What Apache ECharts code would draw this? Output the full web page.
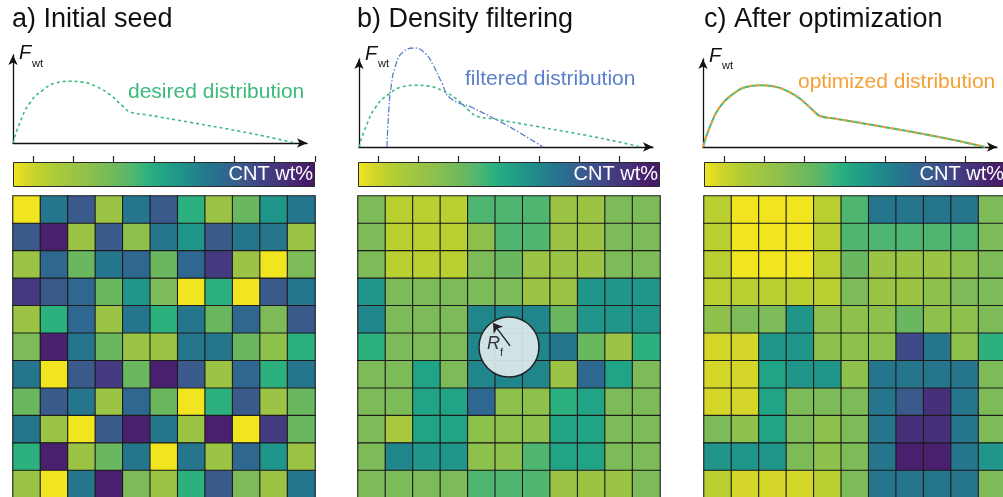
<!DOCTYPE html>
<html>
<head>
<meta charset="utf-8">
<script src="https://cdn.jsdelivr.net/npm/echarts@6/dist/echarts.min.js"></script>
<style>html,body{margin:0;padding:0;background:#fff;}#chart{width:1003px;height:497px;}</style>
</head>
<body>
<div id="chart"></div>
<script>
// ---------- data ----------
const panelTitles = ['a) Initial seed', 'b) Density filtering', 'c) After optimization'];
const curveLabels = ['desired distribution', 'filtered distribution', 'optimized distribution'];
const colorbarLabel = 'CNT wt%';
const cells = [0,1,2,3,4,5,6,7,8,9,10];

// desired distribution F_wt(x) (x: 0..100 along axis, y: 0..100 of axis height)
const desiredX = [0, 2.3, 5.7, 10.2, 14.6, 19.4, 23.8, 28.2, 33, 37.4, 40.1, 45.2, 60.2, 77.2, 88.4, 95.9];
const desiredY = [0, 22.7, 45.5, 60.2, 68.2, 70.1, 69, 64.4, 54.9, 41.7, 34.9, 32.2, 23.5, 13.3, 5.7, 0];
// filtered distribution
const filteredX = [9.5, 10, 10.9, 12.6, 15, 19, 22.4, 25.2, 28.2, 31, 38.8, 46.9, 54.8, 62.6];
const filteredY = [0, 34.1, 68.2, 94.3, 108, 112.5, 106.8, 93.2, 72.7, 55.7, 44.3, 30.7, 15.9, 0];

// colorbar ticks
const ticksA = [0.5, 1.5, 2.5, 3.5, 4.5, 5.5, 6.5, 7.5];
const ticksB = [0.5, 1.5, 2.5, 3.5, 4.5, 5.5, 6.5];
const ticksC = [0.5, 1.5, 2.5, 3.5, 4.5, 5.5, 6.5, 7.5];
const colorbarMax = 7.5;

// CNT wt% level per element (0 = low/yellow, 1 = high/purple), rows top to bottom
const seedGrid = [
  [0, .65, .75, .2, .65, .75, .45, .2, .35, .55, .65],
  [.75, .95, .2, .75, .25, .65, .55, .75, .65, .65, .2],
  [.2, .7, .35, .65, .7, .35, .7, .85, .2, 0, .3],
  [.85, .75, .7, .35, .55, .3, 0, .45, 0, .75, .65],
  [.2, .45, .7, .2, .65, .45, .65, .35, .7, .3, .75],
  [.3, .95, .65, .35, .2, .2, .65, .65, .35, .25, .45],
  [.65, 0, .75, .85, .35, .95, .75, .2, .7, .45, .65],
  [.35, .75, .65, .2, .7, .35, 0, .45, .75, .2, .35],
  [.65, .2, 0, .75, .95, .65, .2, .95, 0, .85, .35],
  [.45, .95, .2, .35, .65, 0, .65, .2, .7, .55, .2],
  [.2, 0, .65, .95, .3, .2, .45, .75, .3, .2, .65]
];
const filteredGrid = [
  [.3, .1, .1, .1, .4, .4, .4, .2, .2, .3, .3],
  [.3, .1, .1, .1, .25, .4, .4, .2, .2, .3, .3],
  [.3, .1, .1, .1, .3, .35, .2, .2, .2, .3, .3],
  [.55, .3, .3, .3, .3, .3, .2, .2, .55, .55, .55],
  [.6, .3, .3, .3, .6, .6, .6, .35, .55, .55, .55],
  [.45, .3, .3, .3, .6, .6, .6, .65, .35, .2, .45],
  [.3, .3, .5, .3, .6, .6, .6, .2, .7, .5, .3],
  [.3, .3, .5, .5, .7, .25, .25, .45, .5, .3, .3],
  [.3, .15, .5, .5, .25, .25, .25, .5, .5, .3, .3],
  [.3, .6, .55, .55, .25, .25, .4, .5, .5, .3, .3],
  [.3, .3, .3, .3, .4, .4, .4, .2, .2, .2, .3]
];
const optimizedGrid = [
  [.1, 0, 0, 0, .1, .4, .65, .65, .65, .65, .3],
  [.1, 0, 0, 0, .1, .4, .4, .4, .4, .4, .3],
  [.1, 0, 0, 0, .1, .35, .2, .2, .2, .25, .3],
  [.1, .1, .1, .1, .1, .3, .2, .2, .25, .3, .3],
  [.25, .3, .3, .55, .25, .25, .25, .35, .25, .25, .3],
  [.05, .05, .55, .55, .25, .25, .25, .8, .65, .25, .45],
  [.05, .05, .5, .55, .55, .25, .65, .65, .65, .65, .3],
  [.05, .05, .5, .3, .3, .3, .65, .75, .9, .65, .3],
  [.3, .25, .5, .3, .25, .3, .65, .9, .9, .65, .3],
  [.55, .55, .55, .3, .25, .3, .65, .95, .95, .65, .55],
  [.1, .05, .05, .05, .1, .3, .65, .65, .65, .65, .3]
];
// filter radius marker (element centre) and arrow
const filterCenter = [5, 5];
const filterArrow = [[5.04, 4.96], [4.42, 4.13]];

// ---------- styling ----------
const FONT = '"Liberation Sans", Arial, Helvetica, sans-serif';
const palette = ['#f0e51e','#d4d72a','#b9d030','#a8c93c','#9cc444','#8ec14c','#7cbb57','#69b85f','#4fb672','#2bb07e','#21a385','#20958a','#21868c','#25768c','#2e6890','#3a5a8c','#3f4b88','#433a80','#46307a','#48206e','#461a66'];
const cGreen = '#3dba7c', cBlue = '#5a7fca', cOrange = '#f5a033';

const heatLeft = [13, 358, 704];
const distLeft = [13, 359, 703];
const distAxisY = [143, 147, 147];
const distH = 88, distW = 294;

const grid = [], xAxis = [], yAxis = [], series = [], visualMap = [], graphic = [];
const hidden = {show: false};

function zip(xs, ys) { return xs.map((x, i) => [x, ys[i]]); }
function toCells(g) {
  const out = [];
  g.forEach((row, r) => row.forEach((v, c) => out.push([c, r, v])));
  return out;
}
const heatData = [seedGrid, filteredGrid, optimizedGrid];
const tickSets = [ticksA, ticksB, ticksC];

for (let p = 0; p < 3; p++) {
  // distribution plot grid
  let gi = grid.length;
  grid.push({left: distLeft[p], top: distAxisY[p] - distH, width: distW, height: distH, outerBoundsMode: 'none'});
  const axLine = {show: true, symbol: ['none', 'arrow'], symbolSize: [7, 10], lineStyle: {color: '#111', width: 1.3}};
  xAxis.push({gridIndex: gi, type: 'value', min: 0, max: 100, axisLine: axLine, axisTick: hidden, axisLabel: hidden, splitLine: hidden});
  yAxis.push({gridIndex: gi, type: 'value', min: 0, max: 100, axisLine: axLine, axisTick: hidden, axisLabel: hidden, splitLine: hidden});
  const lineBase = {type: 'line', xAxisIndex: gi, yAxisIndex: gi, showSymbol: false, symbol: 'none', smooth: 0.5, clip: false, silent: true, animation: false};
  if (p === 0) {
    series.push(Object.assign({}, lineBase, {data: zip(desiredX, desiredY), lineStyle: {color: cGreen, width: 1.6, type: [3, 3]}}));
  } else if (p === 1) {
    series.push(Object.assign({}, lineBase, {data: zip(desiredX, desiredY), lineStyle: {color: cGreen, width: 1.6, type: [3, 3]}}));
    series.push(Object.assign({}, lineBase, {data: zip(filteredX, filteredY), lineStyle: {color: cBlue, width: 1.3, type: [6, 2, 1.5, 2]}}));
  } else {
    series.push(Object.assign({}, lineBase, {data: zip(desiredX, desiredY), lineStyle: {color: cGreen, width: 2}}));
    series.push(Object.assign({}, lineBase, {data: zip(desiredX, desiredY), lineStyle: {color: cOrange, width: 2, type: [4, 4]}}));
  }

  // colorbar grid
  gi = grid.length;
  grid.push({left: heatLeft[p], top: 162, width: 302, height: 25, outerBoundsMode: 'none'});
  xAxis.push({gridIndex: gi, type: 'value', min: 0, max: colorbarMax, position: 'top',
    axisLine: hidden, axisLabel: hidden, splitLine: hidden,
    axisTick: {show: true, inside: false, length: 6, customValues: tickSets[p], lineStyle: {color: '#222', width: 1.2}}});
  yAxis.push({gridIndex: gi, type: 'category', data: ['cb'], axisLine: hidden, axisTick: hidden, axisLabel: hidden, splitLine: hidden});
  series.push({type: 'bar', xAxisIndex: gi, yAxisIndex: gi, data: [colorbarMax], barWidth: '100%', silent: true, animation: false,
    itemStyle: {borderColor: '#2a2a2a', borderWidth: 1,
      color: {type: 'linear', x: 0, y: 0, x2: 1, y2: 0, colorStops: palette.map((c, i) => ({offset: i / (palette.length - 1), color: c}))}},
    label: {show: true, position: 'insideRight', distance: 2, formatter: colorbarLabel, color: '#fff', fontSize: 20, fontFamily: FONT, textBorderWidth: 0}});

  // heatmap grid
  gi = grid.length;
  grid.push({left: heatLeft[p], top: 196, width: 302, height: 302, outerBoundsMode: 'none'});
  xAxis.push({gridIndex: gi, type: 'category', data: cells, axisLine: hidden, axisTick: hidden, axisLabel: hidden, splitLine: hidden});
  yAxis.push({gridIndex: gi, type: 'category', data: cells, inverse: true, axisLine: hidden, axisTick: hidden, axisLabel: hidden, splitLine: hidden});
  visualMap.push({type: 'continuous', show: false, min: 0, max: 1, dimension: 2, seriesIndex: series.length, inRange: {color: palette}});
  series.push({type: 'heatmap', xAxisIndex: gi, yAxisIndex: gi, data: toCells(heatData[p]), silent: true, animation: false,
    itemStyle: {borderColor: '#1c1c1c', borderWidth: 1.1}, emphasis: {disabled: true}});

  // text
  graphic.push({type: 'text', x: [12, 357, 704][p], y: 19.5, z: 100, style: {text: panelTitles[p], font: '27px ' + FONT, fill: '#111', verticalAlign: 'middle'}});
  graphic.push({type: 'text', x: distLeft[p] + 6, y: [53, 54, 56][p], z: 100, style: {text: 'F', font: 'italic 20px ' + FONT, fill: '#111', verticalAlign: 'middle'}});
  graphic.push({type: 'text', x: distLeft[p] + 19, y: [64, 64, 66][p], z: 100, style: {text: 'wt', font: '11px ' + FONT, fill: '#111', verticalAlign: 'middle'}});
  graphic.push({type: 'text', x: [128, 465, 798][p], y: [92.5, 79.5, 82][p], z: 100,
    style: {text: curveLabels[p], font: '21px ' + FONT, fill: [cGreen, cBlue, cOrange][p], verticalAlign: 'middle'}});
}

// overlay grid on filtered heatmap for the filter radius marker
const go = grid.length;
grid.push({left: heatLeft[1], top: 196, width: 302, height: 302, outerBoundsMode: 'none'});
xAxis.push({gridIndex: go, type: 'value', min: -0.5, max: 10.5, show: false});
yAxis.push({gridIndex: go, type: 'value', min: -0.5, max: 10.5, inverse: true, show: false});
series.push({type: 'scatter', xAxisIndex: go, yAxisIndex: go, data: [filterCenter], symbol: 'circle', symbolSize: 60, silent: true, animation: false, z: 10,
  itemStyle: {color: 'rgba(226,236,238,0.9)', opacity: 1, borderColor: '#222', borderWidth: 1.5}});
series.push({type: 'lines', coordinateSystem: 'cartesian2d', xAxisIndex: go, yAxisIndex: go, data: [{coords: filterArrow}], symbol: ['none', 'arrow'], symbolSize: 9, silent: true, animation: false, z: 11,
  lineStyle: {color: '#222', width: 1.4, opacity: 1}});
graphic.push({type: 'text', x: 487, y: 344, z: 100, style: {text: 'R', font: 'italic 18px ' + FONT, fill: '#333', verticalAlign: 'middle'}});
graphic.push({type: 'text', x: 500, y: 353, z: 100, style: {text: 'f', font: '11px ' + FONT, fill: '#333', verticalAlign: 'middle'}});

const chart = echarts.init(document.getElementById('chart'), null, {renderer: 'canvas'});
chart.setOption({animation: false, backgroundColor: '#fff', grid, xAxis, yAxis, series, visualMap, graphic});
</script>
</body>
</html>
